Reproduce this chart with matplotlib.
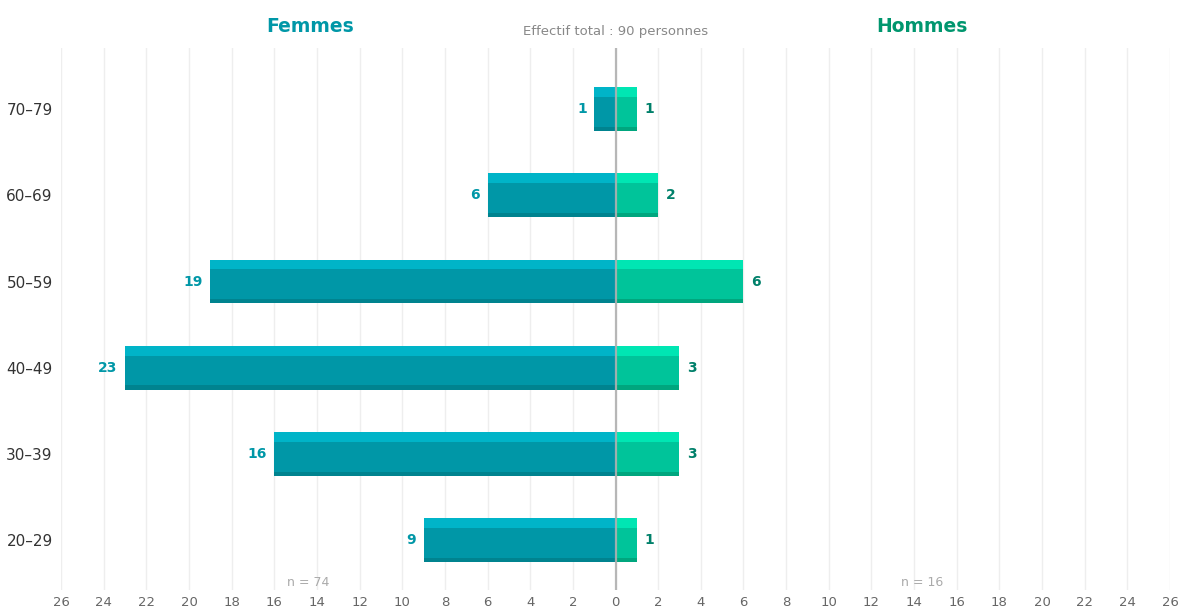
import matplotlib.pyplot as plt
import numpy as np

# Pyramide des âges par sexe
tranches = ['20–29', '30–39', '40–49', '50–59', '60–69', '70–79']
femmes = [9, 16, 23, 19, 6, 1]
hommes = [1, 3, 3, 6, 2, 1]
graduations = list(range(-26, 27, 2))

f_main, f_top, f_bot = '#0097a7', '#00b4c8', '#00838f'
h_main, h_top, h_bot = '#00c49a', '#00e6b3', '#00a67e'

fig = plt.figure(figsize=(11.78, 6.08), dpi=100)
ax = fig.add_axes([61 / 1178, 18 / 608, 1109 / 1178, 542 / 608])

y = np.arange(len(tranches))
h = 0.51
top_h = 0.115
bot_h = 0.05
f = -np.array(femmes)
m = np.array(hommes)

# corps des barres + bande claire en haut + bande foncée en bas
ax.barh(y, f, height=h, color=f_main, zorder=2)
ax.barh(y + h / 2 - top_h / 2, f, height=top_h, color=f_top, zorder=3)
ax.barh(y - h / 2 + bot_h / 2, f, height=bot_h, color=f_bot, zorder=3)
ax.barh(y, m, height=h, color=h_main, zorder=2)
ax.barh(y + h / 2 - top_h / 2, m, height=top_h, color=h_top, zorder=3)
ax.barh(y - h / 2 + bot_h / 2, m, height=bot_h, color=h_bot, zorder=3)

ax.axvline(0, color='#b0b0b0', lw=1.6, zorder=4, alpha=0.9)

for yi, v in zip(y, femmes):
    ax.text(-v - 0.35, yi, str(v), ha='right', va='center', fontsize=10,
            fontweight='bold', color='#0097a7')
for yi, v in zip(y, hommes):
    ax.text(v + 0.35, yi, str(v), ha='left', va='center', fontsize=10,
            fontweight='bold', color='#00806a')

ax.set_xlim(-26, 26)
ax.set_ylim(-0.58, 5.71)
ax.set_xticks(graduations)
ax.set_xticklabels([str(abs(t)) for t in graduations])
ax.set_yticks(y)
ax.set_yticklabels(tranches)
ax.tick_params(axis='x', length=0, labelsize=9.5, labelcolor='#666666', pad=4)
ax.tick_params(axis='y', length=0, labelsize=11, labelcolor='#333333', pad=6)
ax.grid(axis='x', color='#eeeeee', lw=1, zorder=0)
ax.set_axisbelow(True)
for s in ax.spines.values():
    s.set_visible(False)

ax.text(-14.4, -0.49, 'n = 74', ha='center', va='center', fontsize=9, color='#aaaaaa')
ax.text(14.4, -0.49, 'n = 16', ha='center', va='center', fontsize=9, color='#aaaaaa')

fig.text(310 / 1178, 1 - 27 / 608, 'Femmes', ha='center', va='center',
         fontsize=13.5, fontweight='bold', color='#0097a7')
fig.text(922 / 1178, 1 - 27 / 608, 'Hommes', ha='center', va='center',
         fontsize=13.5, fontweight='bold', color='#00966e')
fig.text(616 / 1178, 1 - 31 / 608, 'Effectif total : 90 personnes', ha='center',
         va='center', fontsize=9.5, color='#888888')

fig.savefig('out.png', dpi=100)
